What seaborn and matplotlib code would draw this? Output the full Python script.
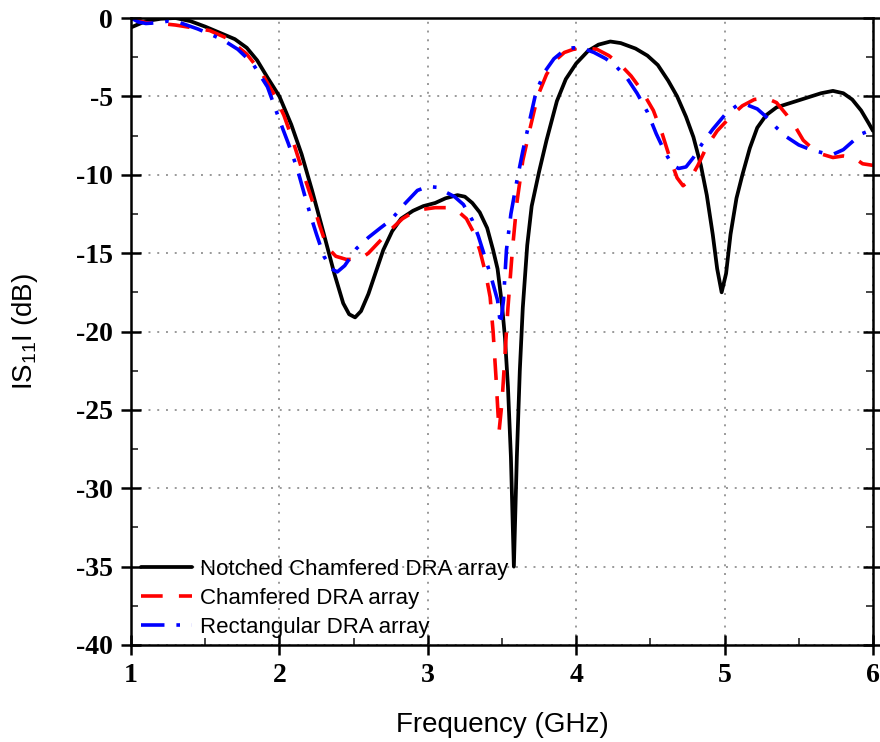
import matplotlib
matplotlib.use("Agg")
import matplotlib.pyplot as plt
import seaborn as sns
from matplotlib.ticker import MultipleLocator

# ---------------- data ----------------
f_notched = [1.00, 1.05, 1.10, 1.20, 1.30, 1.40, 1.50, 1.60, 1.70, 1.78, 1.85, 1.92, 2.00,
             2.08, 2.15, 2.22, 2.30, 2.37, 2.43, 2.47, 2.51, 2.55, 2.60, 2.65, 2.70, 2.76,
             2.82, 2.90, 2.97, 3.05, 3.12, 3.20, 3.25, 3.30, 3.35, 3.40, 3.44, 3.47, 3.50,
             3.52, 3.54, 3.56, 3.58, 3.60, 3.62, 3.64, 3.67, 3.70, 3.75, 3.80, 3.87, 3.93,
             4.00, 4.08, 4.15, 4.23, 4.30, 4.40, 4.48, 4.55, 4.62, 4.68, 4.74, 4.79, 4.84,
             4.88, 4.92, 4.95, 4.98, 5.01, 5.04, 5.08, 5.12, 5.17, 5.22, 5.28, 5.35, 5.45,
             5.55, 5.65, 5.73, 5.80, 5.86, 5.92, 5.97, 6.00]
s11_notched = [-0.6, -0.4, -0.2, -0.05, 0.0, -0.2, -0.55, -0.95, -1.35, -1.9, -2.7, -3.8, -5.0,
               -6.8, -8.7, -11.0, -13.8, -16.3, -18.2, -18.9, -19.1, -18.7, -17.6, -16.2, -14.8, -13.6,
               -12.8, -12.3, -12.0, -11.8, -11.5, -11.3, -11.4, -11.8, -12.4, -13.4, -14.8, -16.0, -18.3,
               -20.4, -23.5, -28.0, -35.0, -28.0, -22.5, -18.5, -14.5, -12.0, -9.8, -7.8, -5.3, -3.9,
               -2.9, -2.1, -1.7, -1.5, -1.6, -1.95, -2.4, -3.0, -4.0, -5.0, -6.3, -7.6, -9.4,
               -11.3, -13.8, -16.0, -17.5, -16.3, -13.8, -11.5, -10.0, -8.3, -7.0, -6.2, -5.7, -5.4,
               -5.1, -4.8, -4.65, -4.8, -5.2, -5.9, -6.7, -7.2]

f_chamfered = [1.00, 1.05, 1.10, 1.20, 1.30, 1.40, 1.53, 1.65, 1.78, 1.88, 1.96, 2.03, 2.09,
               2.15, 2.22, 2.27, 2.32, 2.38, 2.45, 2.54, 2.60, 2.67, 2.75, 2.83, 2.90, 2.97,
               3.05, 3.13, 3.20, 3.26, 3.31, 3.35, 3.39, 3.42, 3.44, 3.46, 3.48, 3.50, 3.52,
               3.54, 3.57, 3.60, 3.64, 3.69, 3.74, 3.80, 3.86, 3.92, 3.98, 4.06, 4.14, 4.22,
               4.30, 4.37, 4.44, 4.52, 4.58, 4.63, 4.68, 4.72, 4.76, 4.82, 4.88, 4.95, 5.01,
               5.06, 5.12, 5.20, 5.28, 5.35, 5.42, 5.48, 5.53, 5.60, 5.66, 5.73, 5.80, 5.87,
               5.93, 6.00]
s11_chamfered = [0.0, -0.15, -0.3, -0.35, -0.45, -0.6, -0.8, -1.3, -2.3, -3.5, -4.8, -6.2, -7.8,
                 -9.6, -11.6, -13.2, -14.6, -15.2, -15.4, -15.4, -15.0, -14.3, -13.5, -12.8, -12.4, -12.2,
                 -12.1, -12.1, -12.3, -12.8, -13.7, -14.8, -16.3, -17.8, -20.0, -23.0, -26.4, -24.5, -21.5,
                 -18.5, -14.8, -11.8, -9.1, -7.0, -5.0, -3.6, -2.7, -2.2, -2.0, -1.9, -2.0, -2.4,
                 -3.0, -3.7, -4.6, -5.9, -7.4, -8.9, -10.2, -10.7, -10.4, -9.4, -8.2, -7.2, -6.6,
                 -6.1, -5.6, -5.2, -5.1, -5.4, -6.2, -7.0, -7.8, -8.4, -8.7, -8.9, -8.8, -8.9,
                 -9.3, -9.4]

f_rect = [1.00, 1.05, 1.10, 1.18, 1.25, 1.33, 1.45, 1.55, 1.62, 1.72, 1.82, 1.92, 2.00,
          2.06, 2.12, 2.17, 2.21, 2.25, 2.30, 2.35, 2.39, 2.44, 2.52, 2.60, 2.68, 2.75,
          2.84, 2.93, 3.00, 3.06, 3.12, 3.18, 3.24, 3.30, 3.34, 3.37, 3.42, 3.47, 3.49,
          3.51, 3.53, 3.56, 3.60, 3.64, 3.68, 3.73, 3.79, 3.85, 3.92, 3.98, 4.05, 4.12,
          4.20, 4.27, 4.34, 4.41, 4.48, 4.54, 4.60, 4.65, 4.69, 4.74, 4.79, 4.85, 4.92,
          5.00, 5.08, 5.14, 5.22, 5.28, 5.35, 5.42, 5.50, 5.58, 5.66, 5.73, 5.80, 5.86,
          5.92, 6.00]
s11_rect = [0.0, -0.25, -0.35, -0.3, -0.2, -0.3, -0.7, -1.1, -1.4, -2.0, -2.9, -4.4, -6.5,
            -8.0, -9.6, -11.3, -12.6, -13.8, -15.2, -16.0, -16.2, -15.8, -14.7, -14.0, -13.4, -12.9,
            -11.9, -11.0, -10.75, -10.8, -11.1, -11.4, -11.9, -12.9, -13.9, -14.8, -16.3, -18.0, -19.6,
            -18.0, -14.8, -12.5, -10.4, -8.5, -6.8, -4.7, -3.4, -2.6, -2.05, -1.9, -1.95, -2.2,
            -2.6, -3.1, -3.8, -4.8, -6.0, -7.4, -8.6, -9.4, -9.6, -9.5, -8.9, -8.0, -7.1,
            -6.2, -5.6, -5.5, -5.8, -6.3, -7.0, -7.6, -8.1, -8.4, -8.6, -8.7, -8.4, -7.9,
            -7.4, -7.1]

series_labels = ["Notched Chamfered DRA array", "Chamfered DRA array", "Rectangular DRA array"]
x_ticks = [1, 2, 3, 4, 5, 6]
y_ticks = [0, -5, -10, -15, -20, -25, -30, -35, -40]

# ---------------- plot ----------------
sns.set_style("ticks")
plt.rcParams["font.family"] = ["Liberation Sans", "DejaVu Sans"]
plt.rcParams["mathtext.default"] = "regular"
plt.rcParams["axes.unicode_minus"] = False
plt.rcParams["text.color"] = "black"
plt.rcParams["axes.labelcolor"] = "black"

fig = plt.figure(figsize=(8.8, 7.42), dpi=100)
ax = fig.add_axes([131 / 880, 1 - 645 / 742, (873 - 131) / 880, (645 - 18) / 742])

sns.lineplot(x=f_notched, y=s11_notched, ax=ax, color="black", linewidth=2.7,
             label=series_labels[0], linestyle="-")
sns.lineplot(x=f_chamfered, y=s11_chamfered, ax=ax, color="#ff0000", linewidth=2.6,
             label=series_labels[1], linestyle=(0, (6, 4.5)))
sns.lineplot(x=f_rect, y=s11_rect, ax=ax, color="#0000ff", linewidth=2.6,
             label=series_labels[2], linestyle=(0, (6.5, 3.3, 1, 3.3)))

ax.set_xlim(1, 6)
ax.set_ylim(-40, 0)
ax.set_xticks(x_ticks)
ax.set_yticks(y_ticks)
ax.xaxis.set_minor_locator(MultipleLocator(0.5))
ax.yaxis.set_minor_locator(MultipleLocator(2.5))

ax.grid(True, which="major", color="#999999", linestyle=(0, (1, 3.5)), linewidth=1.4)

for sp in ax.spines.values():
    sp.set_linewidth(1.8)
    sp.set_color("black")
    sp.set_visible(True)

ax.tick_params(axis="both", which="major", direction="inout", length=14, width=1.8,
               pad=6, labelsize=20, colors="black")
ax.tick_params(axis="both", which="minor", direction="in", length=5, width=1.2)
ax.tick_params(axis="y", which="both", right=True)
for lbl in ax.get_xticklabels() + ax.get_yticklabels():
    lbl.set_family(["Liberation Serif", "DejaVu Serif"])
    lbl.set_fontweight("bold")

ax.set_xlabel("Frequency (GHz)", fontsize=20, labelpad=17, color="black")
ax.set_ylabel(r"IS$_{11}$I (dB)", fontsize=20, labelpad=26, color="black")

leg = ax.legend(loc="lower left", bbox_to_anchor=(0.008, 0.004), frameon=False,
                fontsize=16, handlelength=2.3, handletextpad=0.35, labelspacing=0.36,
                borderpad=0.2, borderaxespad=0.0)
for t in leg.get_texts():
    t.set_color("black")

fig.savefig("out.png", dpi=100)
